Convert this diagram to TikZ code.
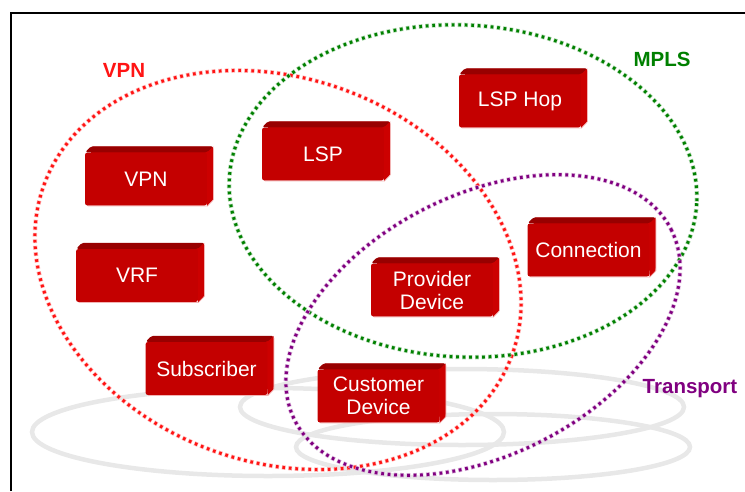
\documentclass[tikz,border=0pt]{standalone}
\usepackage{fontspec}
\usetikzlibrary{shadows}
\newfontfamily\boxfont{Liberation Sans}
\definecolor{boxred}{RGB}{196,0,0}
\definecolor{boxtopred}{RGB}{152,0,0}
\definecolor{boxsidered}{RGB}{204,0,0}
\definecolor{boxedge}{RGB}{242,180,180}
\definecolor{vpnred}{RGB}{255,20,20}
\definecolor{mplsgreen}{RGB}{0,128,0}
\definecolor{transpurple}{RGB}{128,0,128}
\definecolor{ringgray}{RGB}{232,232,232}
\tikzset{
  rbox/.style={rectangle, fill=boxred, rounded corners=2.5pt,
    minimum width=122pt, minimum height=53pt, inner sep=0pt,
    text=white, align=center,
    general shadow={fill=boxsidered, shadow xshift=6pt, shadow yshift=6pt},
    font={\boxfont\fontsize{21}{23}\selectfont}},
  setlabel/.style={inner sep=0pt,
    font={\boxfont\bfseries\fontsize{20.5}{22}\selectfont}},
  halo/.style={line width=4.4pt, dash pattern=on 3.8pt off 2.7pt, dash phase=0.6pt},
  core/.style={line width=3pt, dash pattern=on 2.6pt off 3.9pt},
  ring/.style={draw=ringgray, line width=4.5pt},
}
\begin{document}
\begin{tikzpicture}[x=1pt, y=-1pt]
\useasboundingbox (0,0) rectangle (745,491);

% frame
\draw[line width=2pt] (10.5,491) -- (10.5,12.5) -- (745,12.5);

% faint rings along the floor
\draw[ring] (268,432) ellipse (236 and 44);
\draw[ring] (462,407) ellipse (222 and 38);
\draw[ring] (493,447) ellipse (197 and 33);

% VPN set
\draw[halo, draw=vpnred!30, rotate around={-20:(278,270)}] (278,270) ellipse (249 and 192);
\draw[core, draw=vpnred, rotate around={-20:(278,270)}] (278,270) ellipse (249 and 192);
% MPLS set
\draw[halo, draw=mplsgreen!30, rotate around={-3:(463,191)}] (463,191) ellipse (234 and 166);
\draw[core, draw=mplsgreen, rotate around={-3:(463,191)}] (463,191) ellipse (234 and 166);
% Transport set
\draw[halo, draw=transpurple!30, rotate around={27:(483,325)}] (483,325) ellipse (211 and 130);
\draw[core, draw=transpurple, rotate around={27:(483,325)}] (483,325) ellipse (211 and 130);

% set labels
\node[setlabel, text=vpnred] (lvpn) at (124,70) {VPN};
\node[setlabel, text=mplsgreen] (lmpls) at (662,59) {MPLS};
\node[setlabel, text=transpurple] (ltrans) at (690,389) {Transport};

% entity boxes
\node[rbox] (bvpn)  at (146,179)   {VPN};
\node[rbox] (blsp)  at (323,154)   {LSP};
\node[rbox] (bhop)  at (520,101)   {LSP Hop};
\node[rbox] (bvrf)  at (137,275.5) {VRF};
\node[rbox] (bsub)  at (206.5,368.5) {Subscriber};
\node[rbox] (bcust) at (378.5,396) {Customer\\Device};
\node[rbox] (bprov) at (432,290)   {Provider\\Device};
\node[rbox] (bconn) at (588.5,250) {Connection};

% bevelled top and right faces of each box
\foreach \b in {bvpn,blsp,bhop,bvrf,bsub,bcust,bprov,bconn}{
  \fill[boxtopred, rounded corners=2pt] ([xshift=0.5pt]\b.north west) -- ([shift={(6,-6)}]\b.north west)
    -- ([shift={(6,-6)}]\b.north east) -- (\b.north east) -- cycle;
  \fill[boxsidered] (\b.north east) -- ([shift={(6,-6)}]\b.north east)
    -- ([shift={(6,-6)}]\b.south east) -- ([yshift=-0.5pt]\b.south east) -- cycle;
  \draw[boxedge, line width=0.7pt] ([shift={(6.3,-4)}]\b.north east)
    -- ([shift={(6.3,-6)}]\b.south east) -- ([shift={(0.3,0.3)}]\b.south east)
    -- ([shift={(3,0.3)}]\b.south west);
}
\end{tikzpicture}
\end{document}
